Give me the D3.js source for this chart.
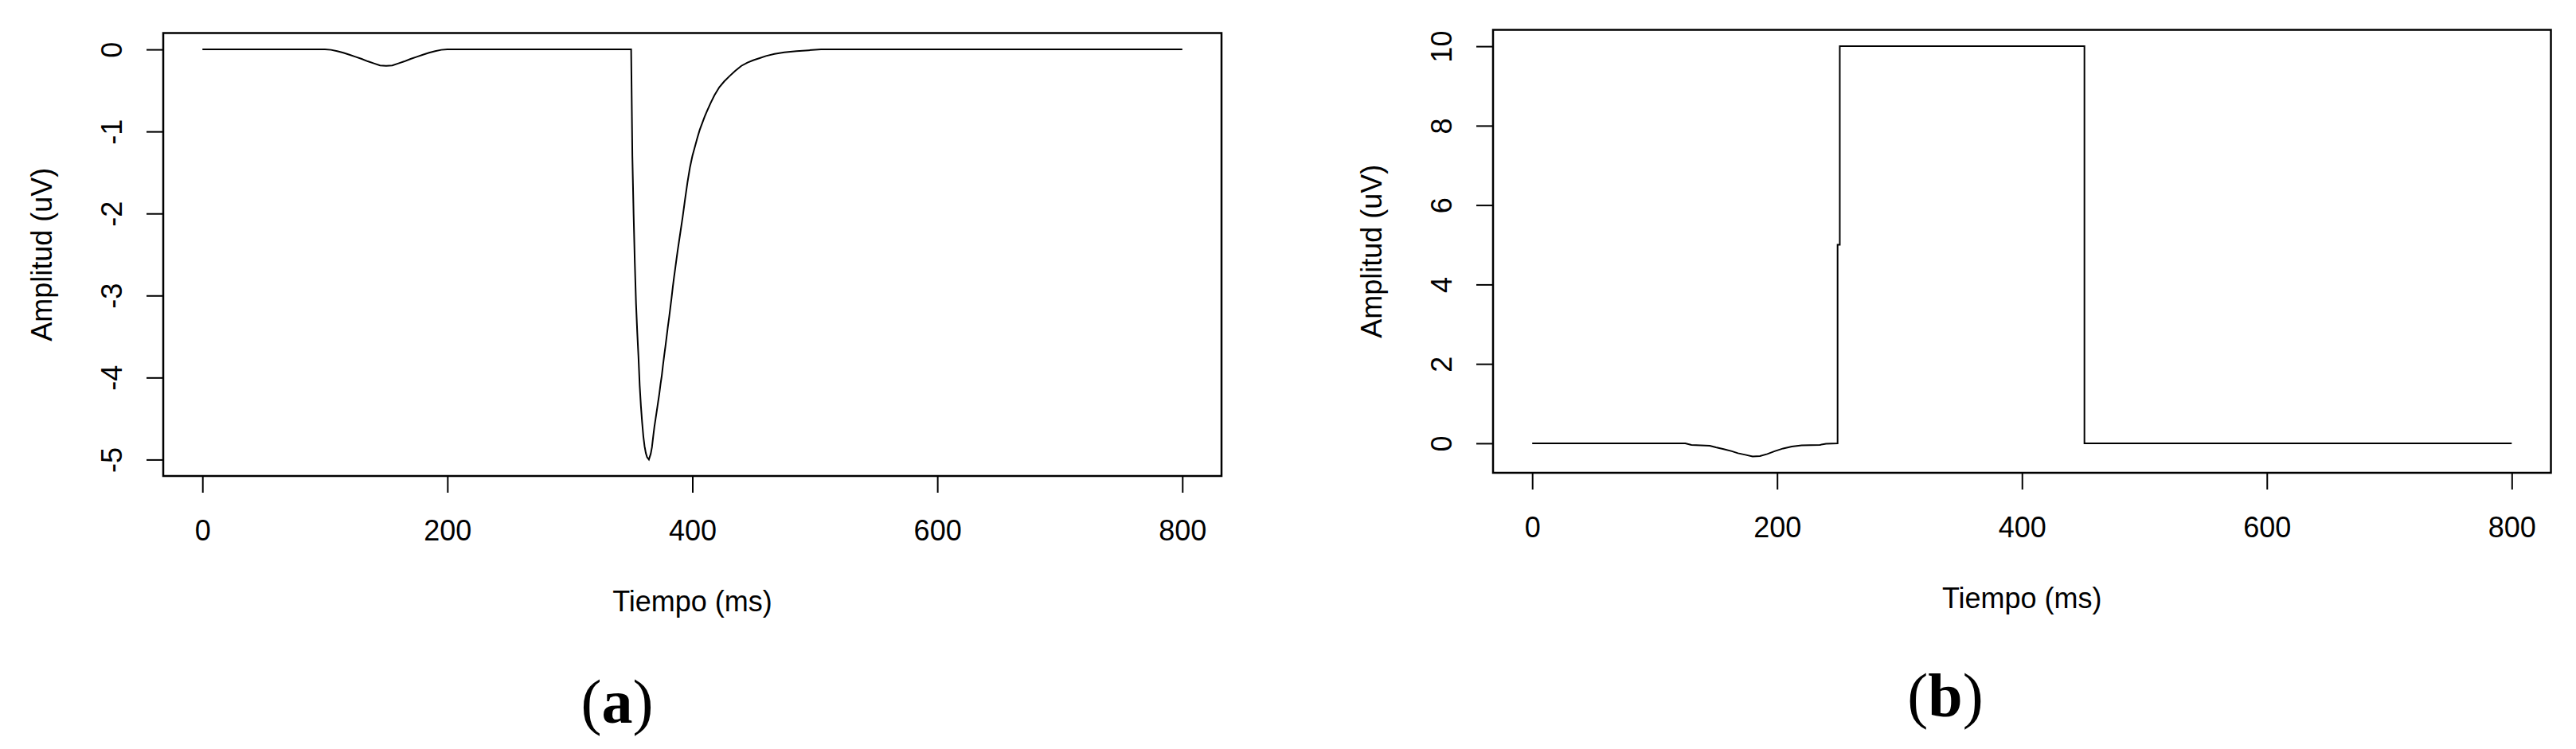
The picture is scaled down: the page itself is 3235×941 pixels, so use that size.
<!DOCTYPE html>
<html>
<head>
<meta charset="utf-8">
<script src="https://cdn.jsdelivr.net/npm/d3@7"></script>
<style>
  html, body { margin: 0; padding: 0; background: #ffffff; }
  svg { display: block; }
</style>
</head>
<body>
<svg id="chart" width="3235" height="941"></svg>
<script>
// ---------------- DATA ----------------
// Panel (a): time (ms) and amplitude (uV)
const timeA = [0, 100, 105, 110, 115, 120, 125, 130, 135, 140, 145, 150, 155, 160, 165, 170, 175, 180, 185, 190, 195, 200,
  350, 351, 352, 353, 354, 355, 356, 357, 358, 359, 360, 361, 362, 363, 364.5, 366, 367, 368, 369, 370, 371, 372, 373,
  374, 375, 376, 377, 378, 379, 380, 381, 382, 383, 384, 385, 386, 387, 388, 390, 392, 394, 396, 398, 400, 402, 404,
  406, 408, 410, 412, 415, 418, 422, 426, 430, 435, 440, 445, 450, 455, 460, 467, 475, 485, 495, 505, 800];
const ampA = [0, 0, -0.005, -0.02, -0.04, -0.065, -0.09, -0.115, -0.145, -0.17, -0.195, -0.2, -0.195, -0.17, -0.145, -0.115, -0.09, -0.065, -0.04, -0.02, -0.005, 0,
  0, -1.3, -2.0, -2.6, -3.1, -3.45, -3.75, -4.1, -4.35, -4.55, -4.72, -4.84, -4.92, -4.97, -5.0, -4.93, -4.85, -4.72, -4.6, -4.5, -4.4, -4.3, -4.2,
  -4.08, -3.98, -3.85, -3.73, -3.62, -3.5, -3.38, -3.27, -3.15, -3.03, -2.9, -2.78, -2.67, -2.56, -2.45, -2.25, -2.05, -1.83, -1.62, -1.44, -1.3, -1.19, -1.08,
  -0.98, -0.9, -0.82, -0.75, -0.65, -0.56, -0.46, -0.39, -0.33, -0.26, -0.2, -0.16, -0.13, -0.105, -0.08, -0.055, -0.035, -0.02, -0.01, 0, 0];

// Panel (b)
const timeB = [0, 125, 130, 145, 150, 157, 163, 168, 174, 180, 186, 192, 198, 205, 212, 220, 235, 240, 249.4, 249.4, 251.2, 251.2, 451, 451, 800];
const ampB  = [0, 0, -0.04, -0.06, -0.1, -0.15, -0.2, -0.25, -0.29, -0.33, -0.32, -0.27, -0.2, -0.13, -0.08, -0.05, -0.04, -0.01, 0, 5, 5, 10, 10, 0, 0];

const xTicks = [0, 200, 400, 600, 800];
const yTicksA = [0, -1, -2, -3, -4, -5];
const yTicksB = [0, 2, 4, 6, 8, 10];
const xLabel = "Tiempo (ms)";
const yLabel = "Amplitud (uV)";
const captions = ["a", "b"];

// ---------------- DRAW ----------------
const svg = d3.select("#chart");
const FONT = "'Liberation Sans', Arial, sans-serif";
const fmt = d => String(d);   // plain hyphen-minus like the reference

function rExtend(lo, hi) { const d = (hi - lo) * 0.04; return [lo - d, hi + d]; }

function panel(cfg) {
  const { left, right, top, bottom, times, amps, yTicks, caption, capX, capY } = cfg;
  const data = times.map((t, i) => ({ t, v: amps[i] }));
  const x = d3.scaleLinear().domain(rExtend(0, 800)).range([left, right]);
  const y = d3.scaleLinear().domain(rExtend(d3.min(amps), d3.max(amps))).range([bottom, top]);
  const g = svg.append("g");

  // data line
  g.append("path").datum(data)
    .attr("fill", "none").attr("stroke", "#000").attr("stroke-width", 2)
    .attr("stroke-linejoin", "miter")
    .attr("d", d3.line().x(d => x(d.t)).y(d => y(d.v)));

  // x axis
  const gx = g.append("g").attr("transform", `translate(0,${bottom})`)
    .call(d3.axisBottom(x).tickValues(xTicks).tickSize(21).tickSizeOuter(0).tickFormat(fmt));
  gx.select(".domain").remove();
  gx.selectAll(".tick line").attr("stroke", "#000").attr("stroke-width", 2);
  gx.selectAll(".tick text").attr("y", 81).attr("dy", 0)
    .attr("font-family", FONT).attr("font-size", 36).attr("fill", "#000");

  // y axis
  const gy = g.append("g").attr("transform", `translate(${left},0)`)
    .call(d3.axisLeft(y).tickValues(yTicks).tickSize(21).tickSizeOuter(0).tickFormat(fmt));
  gy.select(".domain").remove();
  gy.selectAll(".tick line").attr("stroke", "#000").attr("stroke-width", 2);
  gy.selectAll(".tick text").attr("x", 0).attr("dy", 0)
    .attr("transform", "translate(-52,0) rotate(-90)")
    .attr("text-anchor", "middle")
    .attr("font-family", FONT).attr("font-size", 36).attr("fill", "#000");

  // box
  g.append("rect").attr("x", left).attr("y", top)
    .attr("width", right - left).attr("height", bottom - top)
    .attr("fill", "none").attr("stroke", "#000").attr("stroke-width", 2.5);

  // axis titles
  g.append("text").attr("x", (left + right) / 2).attr("y", bottom + 170)
    .attr("text-anchor", "middle").attr("font-family", FONT).attr("font-size", 36)
    .attr("fill", "#000").text(xLabel);
  g.append("text")
    .attr("transform", `translate(${left - 140},${(top + bottom) / 2}) rotate(-90)`)
    .attr("text-anchor", "middle").attr("font-family", FONT).attr("font-size", 36)
    .attr("fill", "#000").text(yLabel);

  // caption
  const cap = g.append("text").attr("x", capX).attr("y", capY)
    .attr("text-anchor", "middle")
    .attr("font-family", "'Liberation Serif', 'Times New Roman', serif")
    .attr("font-size", 78).attr("fill", "#000");
  cap.append("tspan").text("(");
  cap.append("tspan").attr("font-weight", "bold").text(caption);
  cap.append("tspan").text(")");
}

panel({ left: 205, right: 1534, top: 41.5, bottom: 598, times: timeA, amps: ampA,
        yTicks: yTicksA, caption: captions[0], capX: 775, capY: 908 });
panel({ left: 1875, right: 3203.5, top: 37.5, bottom: 594, times: timeB, amps: ampB,
        yTicks: yTicksB, caption: captions[1], capX: 2443, capY: 900 });
</script>
</body>
</html>
